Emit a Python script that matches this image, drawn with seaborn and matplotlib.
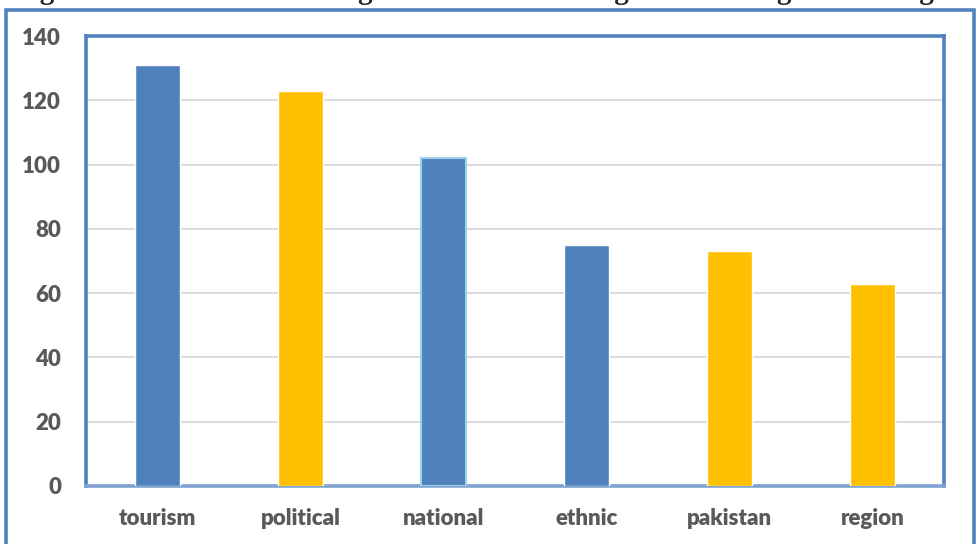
import matplotlib.pyplot as plt
import matplotlib.patches as mpatches
import seaborn as sns
import pandas as pd

categories = ["tourism", "political", "national", "ethnic", "pakistan", "region"]
counts = [131, 123, 102, 75, 73, 63]
bar_colors = ["#4F81BD", "#FFC000", "#4F81BD", "#4F81BD", "#FFC000", "#FFC000"]
yticks = [0, 20, 40, 60, 80, 100, 120, 140]
title = "Figure 1: Content data along side subsided Instagram Hashtags Percentage"

df = pd.DataFrame({"word": categories, "count": counts})

sns.set_style("white")
plt.rcParams["font.family"] = ["Lato", "DejaVu Sans"]

fig = plt.figure(figsize=(9.8, 5.44), dpi=100)
ax = fig.add_axes([86 / 980, 58 / 544, 858 / 980, 450 / 544])

sns.barplot(data=df, x="word", y="count", hue="word", palette=bar_colors,
            width=0.315, legend=False, ax=ax, saturation=1, zorder=3)

# light outline on the "national" bar as in the original
ax.patches[2].set_edgecolor("#9DD3E6")
ax.patches[2].set_linewidth(1.5)

ax.set_ylim(0, 140)
ax.set_yticks(yticks)
ax.yaxis.grid(True, color="#D9D9D9", linewidth=1.3, zorder=0)
ax.set_axisbelow(True)
ax.set_xlabel("")
ax.set_ylabel("")
ax.tick_params(axis="both", length=0, labelcolor="#595959", labelsize=16)
ax.tick_params(axis="y", pad=18)
ax.tick_params(axis="x", pad=16)
for lab in ax.get_xticklabels() + ax.get_yticklabels():
    lab.set_fontweight("heavy")

for side in ["top", "bottom", "left", "right"]:
    ax.spines[side].set_visible(True)
    ax.spines[side].set_color("#4F81BD")
    ax.spines[side].set_linewidth(2.6)
ax.spines["bottom"].set_color("#7FA3D0")

# outer chart frame
frame = mpatches.Rectangle((6 / 980, -0.05), 968 / 980, 1.05 - 10 / 544,
                           transform=fig.transFigure, fill=False,
                           edgecolor="#4F81BD", linewidth=2.6, clip_on=False)
fig.patches.append(frame)

# caption cut off at the top of the picture, as in the original
fig.text(0.49, 1 + 1 / 544, title, ha="center", va="baseline",
         fontsize=21, fontweight="bold", family="Liberation Serif")

fig.savefig("out.png", dpi=100)
